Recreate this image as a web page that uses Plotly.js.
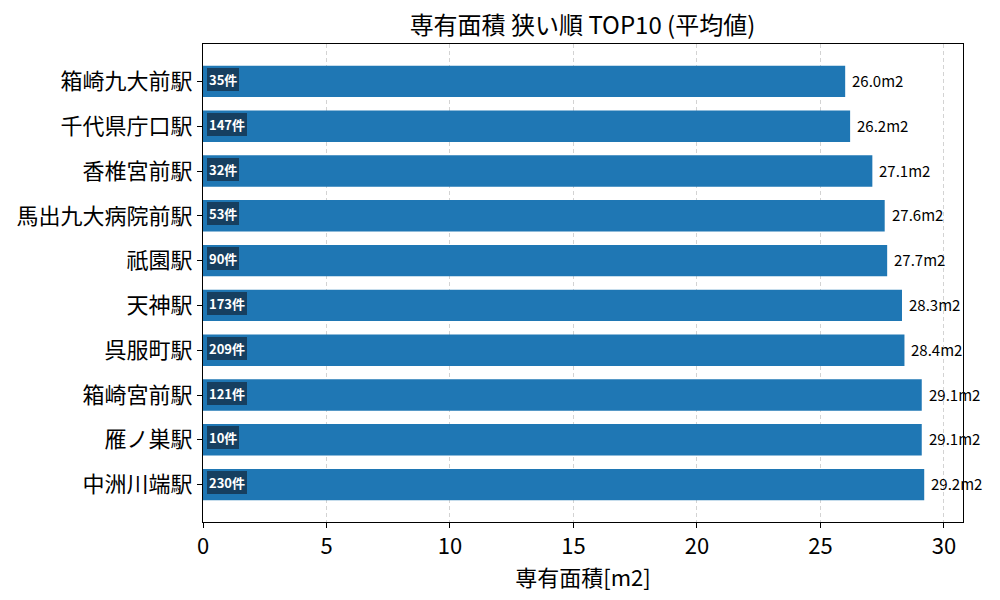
<!DOCTYPE html>
<html>
<head>
<meta charset="utf-8">
<script src="https://cdn.plot.ly/plotly-3.0.1.min.js"></script>
<style>body{margin:0;padding:0;background:#fff}</style>
</head>
<body>
<div id="chart" style="width:1000px;height:600px"></div>
<script>
// stations, narrowest first (drawn top to bottom)
var stations = ['箱崎九大前駅', '千代県庁口駅', '香椎宮前駅', '馬出九大病院前駅', '祇園駅',
                '天神駅', '呉服町駅', '箱崎宮前駅', '雁ノ巣駅', '中洲川端駅'];
var areas = [26.0, 26.2, 27.1, 27.6, 27.7, 28.3, 28.4, 29.1, 29.1, 29.2];
var counts = [35, 147, 32, 53, 90, 173, 209, 121, 10, 230];

var font = '"Noto Sans CJK JP", "Noto Sans", sans-serif';

var trace = {
  type: 'bar',
  orientation: 'h',
  x: areas,
  y: stations,
  width: 0.7,
  marker: {color: '#1f77b4'},
  hoverinfo: 'x+y'
};

var notes = [];
for (var i = 0; i < stations.length; i++) {
  // count badge at the start of each bar
  notes.push({
    x: 0, y: stations[i], xref: 'x', yref: 'y',
    text: '<b>' + counts[i] + '件</b>',
    showarrow: false, xanchor: 'left', xshift: 4, yshift: 2,
    font: {family: font, size: 13, color: '#ffffff'},
    bgcolor: '#163f60', bordercolor: '#163f60', borderpad: 1
  });
  // value label after each bar
  notes.push({
    x: areas[i], y: stations[i], xref: 'x', yref: 'y',
    text: areas[i].toFixed(1) + 'm2',
    showarrow: false, xanchor: 'left', xshift: 5, yshift: 1,
    font: {family: font, size: 15, color: '#000000'}
  });
}

var layout = {
  width: 1000,
  height: 600,
  margin: {l: 203, r: 37, t: 44, b: 78},
  paper_bgcolor: '#ffffff',
  plot_bgcolor: '#ffffff',
  font: {family: font, color: '#000000'},
  title: {
    text: '専有面積 狭い順 TOP10 (平均値)',
    font: {family: font, size: 24, color: '#000000'},
    x: 0.5825, xanchor: 'center', y: 0.958, yanchor: 'middle'
  },
  showlegend: false,
  bargap: 0.3,
  xaxis: {
    range: [0, 30.77],
    tickvals: [0, 5, 10, 15, 20, 25, 30],
    ticks: 'outside', ticklen: 5, tickcolor: '#000',
    tickfont: {family: font, size: 22},
    showgrid: true, gridcolor: '#d3d3d3', griddash: '4px,3px', gridwidth: 1,
    zeroline: false,
    showline: true, linecolor: '#000', linewidth: 1, mirror: true,
    title: {text: '専有面積[m2]', font: {family: font, size: 22}, standoff: 6}
  },
  yaxis: {
    type: 'category',
    categoryorder: 'array',
    categoryarray: stations,
    range: [9.835, -0.835],
    ticks: 'outside', ticklen: 5, tickcolor: '#000',
    tickfont: {family: font, size: 22},
    showgrid: false, zeroline: false,
    showline: true, linecolor: '#000', linewidth: 1, mirror: true
  },
  annotations: notes
};

Plotly.newPlot('chart', [trace], layout, {displayModeBar: false, staticPlot: true});
</script>
</body>
</html>
